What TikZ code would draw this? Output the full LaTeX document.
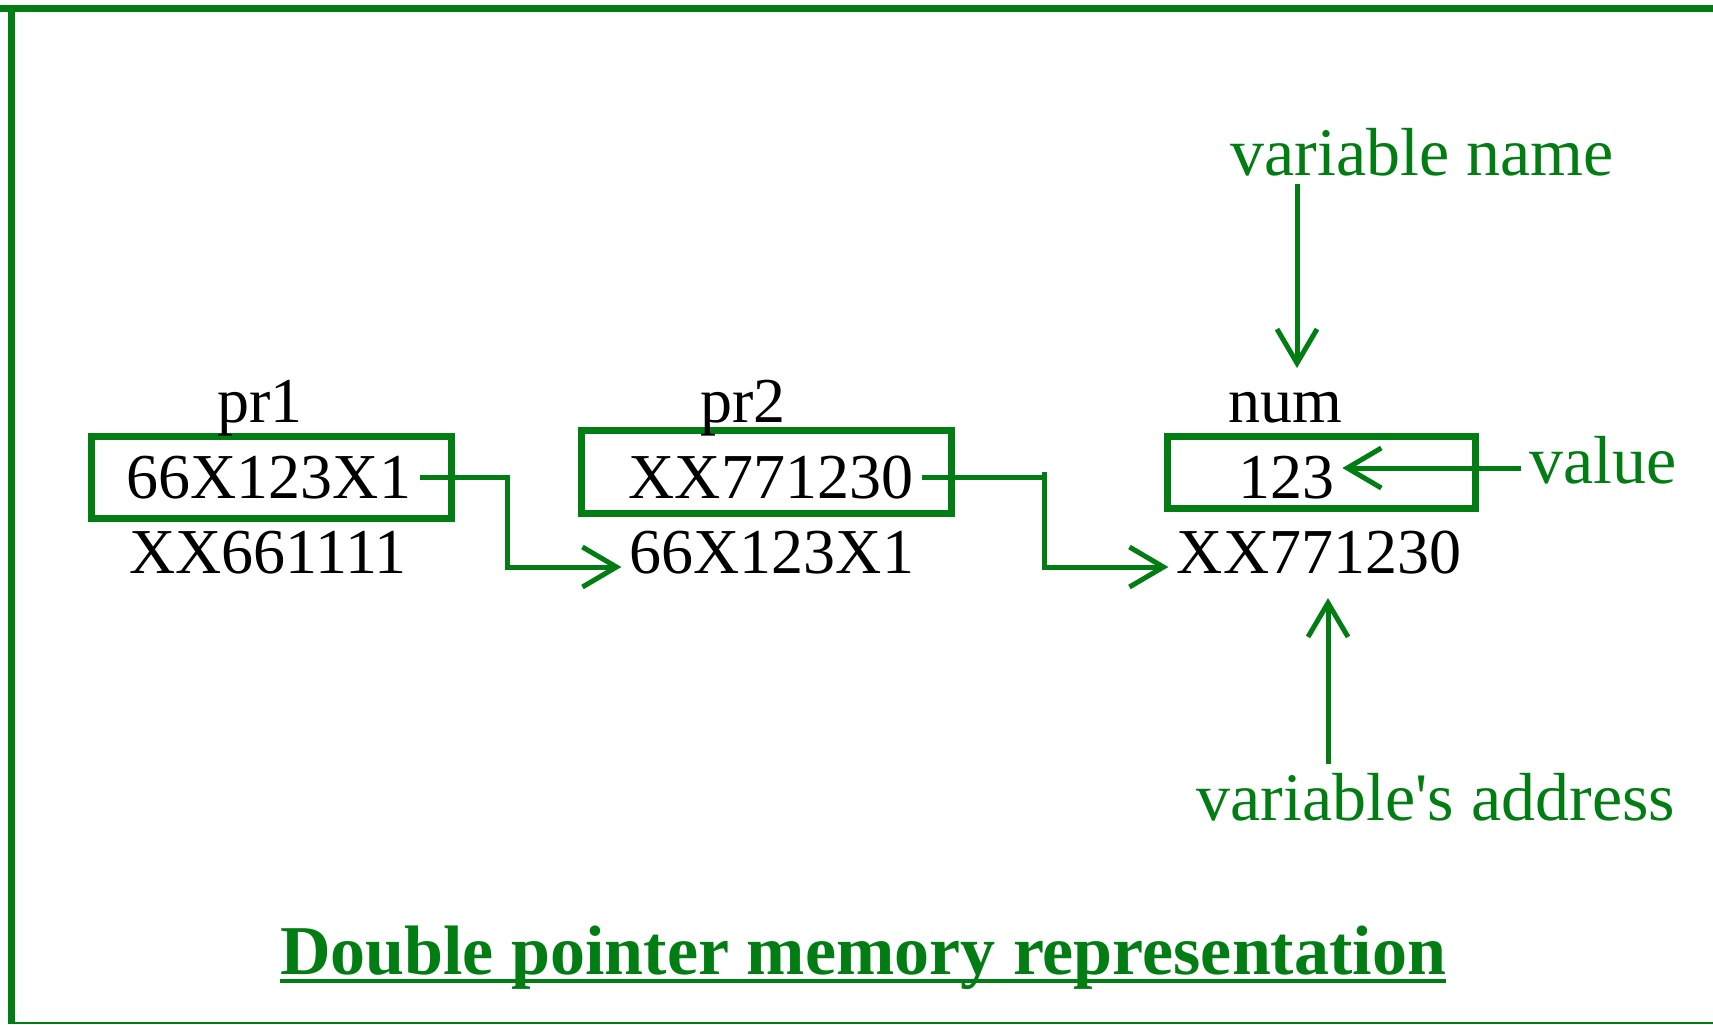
\documentclass[tikz,border=0pt]{standalone}
\usepackage{fontspec}
\setmainfont{Liberation Serif}
\usetikzlibrary{positioning,calc,arrows.meta}
\definecolor{gfgreen}{RGB}{2,125,20}

\begin{document}
\begin{tikzpicture}[x=0.5pt,y=-0.5pt,
	cell/.style={draw=gfgreen, line width=3.5pt, inner sep=0pt},
	txt/.style={anchor=base, inner sep=4pt, font=\fontsize{32}{38}\selectfont},
	lbl/.style={anchor=base, inner sep=4pt, text=gfgreen, font=\fontsize{34}{40}\selectfont},
	ptr/.style={draw=gfgreen, line width=2.5pt, -{Straight Barb[length=17pt,width=20pt]}}]
	
	% frame
	\useasboundingbox (0,0) rectangle (1713,1024);
	\draw[gfgreen, line width=3.5pt] (0,8.5) -- (1713,8.5);
	\draw[gfgreen, line width=3.5pt] (11.5,5) -- (11.5,1024);
	\draw[gfgreen, line width=1pt] (11.5,1022.5) -- (1713,1022.5);
	
	% cells
	\node[cell, minimum width=180pt, minimum height=41pt] (box1) at (271.5,477.5) {};
	\node[cell, minimum width=185pt, minimum height=41.5pt] (box2) at (766.5,472) {};
	\node[cell, minimum width=154pt, minimum height=36pt] (box3) at (1321.5,472.5) {};
	
	% pr1
	\node[txt] (name1) at (260,422) {pr1};
	\node[txt] (val1) at (269,498) {66X123X1};
	\node[txt] (addr1) at (268,573) {XX661111};
	
	% pr2
	\node[txt] (name2) at (743,422) {pr2};
	\node[txt] (val2) at (771,498) {XX771230};
	\node[txt] (addr2) at (772,573) {66X123X1};
	
	% num
	\node[txt] (name3) at (1285,422) {num};
	\node[txt] (val3) at (1286,498) {123};
	\node[txt] (addr3) at (1319,573) {XX771230};
	
	% pointers
	\draw[ptr] (val1.east) -| ([xshift=26pt]box1.east) |- ([yshift=3pt]addr2.base west);
	\draw[ptr] (val2.east) -| ([xshift=44.5pt]box2.east) |- ([yshift=3pt]addr3.base west);
	
	% labels
	\node[lbl] (lblname) at (1422,175) {variable name};
	\node[lbl] (lblvalue) at (1603,483) {value};
	\node[lbl] (lbladdr) at (1436,820) {variable\textquotesingle s address};
	
	\coordinate (namept) at (1297,368);
	\coordinate (addrpt) at (1328,598);
	\coordinate (valpt) at ([yshift=7.5pt]lblvalue.base west);
	\draw[ptr] (namept |- lblname.south) -- (namept);
	\draw[ptr] (valpt) -- (valpt -| val3.east);
	\draw[ptr] (addrpt |- lbladdr.north) -- (addrpt);
	
	% title
	\node[anchor=base, inner sep=0pt, text=gfgreen, font=\fontsize{35}{42}\selectfont\bfseries] (title) at (863,974) {Double pointer memory representation};
	\draw[gfgreen, line width=2pt] ([yshift=-3.5pt]title.base west) -- ([yshift=-3.5pt]title.base east);
	
\end{tikzpicture}
\end{document}
